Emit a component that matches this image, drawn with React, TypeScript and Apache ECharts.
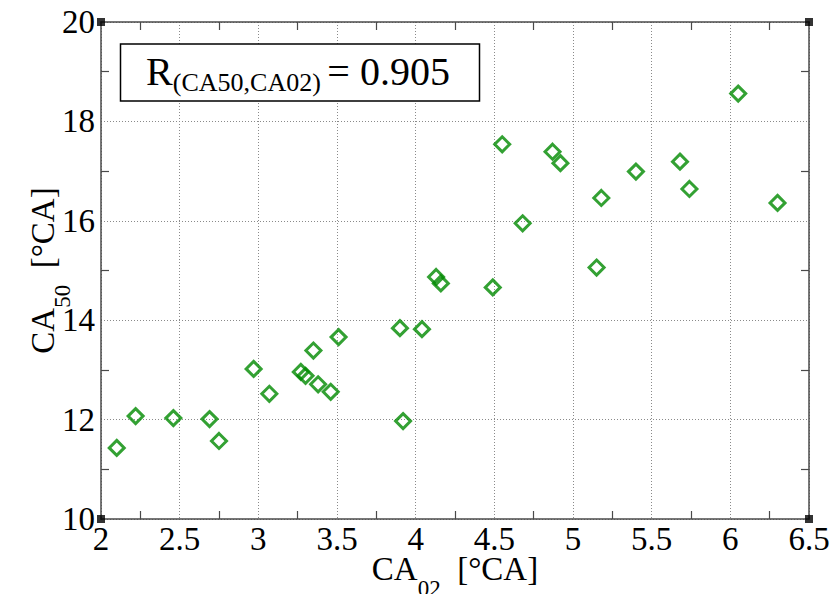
import React, { useEffect, useRef } from 'react';
import * as echarts from 'echarts';

// CA02 (x) and CA50 (y) values, in °CA
const ca02 = [2.10, 2.22, 2.46, 2.69, 2.75, 2.97, 3.07, 3.27, 3.30, 3.35, 3.38, 3.46, 3.51, 3.90, 3.92, 4.04, 4.13, 4.16, 4.49, 4.55, 4.68, 4.87, 4.92, 5.15, 5.18, 5.40, 5.68, 5.74, 6.05, 6.30];
const ca50 = [11.43, 12.07, 12.03, 12.01, 11.57, 13.02, 12.52, 12.96, 12.88, 13.39, 12.71, 12.56, 13.66, 13.84, 11.97, 13.82, 14.87, 14.74, 14.66, 17.54, 15.95, 17.39, 17.16, 15.06, 16.46, 16.99, 17.19, 16.64, 18.56, 16.36];

const xRange = [2, 6.5];
const xStep = 0.5;
const yRange = [10, 20];
const yStep = 2;

const cornerX = [2, 6.5, 2, 6.5];
const cornerY = [20, 20, 10, 10];

const correlationText = '0.905';

const FONT = 'Liberation Serif';
const AXIS = '#4a4a4a';
const GREEN = '#008a00';

const nameRich = {
  m: { fontSize: 33, fontFamily: FONT, color: '#000', lineHeight: 33, verticalAlign: 'top' },
  s: { fontSize: 23, fontFamily: FONT, color: '#000', lineHeight: 23, verticalAlign: 'top', padding: [25, 0, 0, 0] },
};

function mkAxisCommon() {
  return {
    type: 'value' as const,
    axisLine: { show: true, onZero: false, lineStyle: { color: AXIS, width: 1.5 } },
    axisTick: { show: false, inside: true },
    minorTick: { show: true, splitNumber: 2, length: 8, lineStyle: { color: AXIS, width: 1.2 } },
  };
}

export default function App() {
  const ref = useRef<HTMLDivElement>(null);
  useEffect(() => {
    const chart = echarts.init(ref.current!, undefined, { renderer: 'svg' });
    const points = ca02.map((x, i) => [x, ca50[i]]);
    const corners = cornerX.map((x, i) => [x, cornerY[i]]);
    const option: any = {
      animation: false,
      backgroundColor: '#fff',
      grid: { left: 101, right: 23, top: 22, bottom: 75, outerBoundsMode: 'none', containLabel: false },
      xAxis: [
        {
          ...mkAxisCommon(),
          position: 'bottom',
          min: xRange[0], max: xRange[1], interval: xStep,
          axisLabel: { fontSize: 33, lineHeight: 26, fontFamily: FONT, color: '#000', margin: 7 },
          splitLine: { show: true, lineStyle: { color: '#8a8a8a', type: [1, 2], width: 1 } },
          name: '{m|CA}{s|02}{m|  [°CA]}',
          nameLocation: 'middle',
          nameGap: 33,
          nameMoveOverlap: false,
          nameTextStyle: { rich: nameRich },
        },
        {
          ...mkAxisCommon(),
          position: 'top',
          min: xRange[0], max: xRange[1], interval: xStep,
          axisLabel: { show: false },
          splitLine: { show: false },
        },
      ],
      yAxis: [
        {
          ...mkAxisCommon(),
          position: 'left',
          min: yRange[0], max: yRange[1], interval: yStep,
          axisLabel: { fontSize: 33, fontFamily: FONT, color: '#000', margin: 6 },
          splitLine: { show: true, lineStyle: { color: '#8a8a8a', type: [1, 2], width: 1 } },
          name: '{m|CA}{s|50}{m|  [°CA]}',
          nameLocation: 'middle',
          nameRotate: 90,
          nameGap: 42,
          nameMoveOverlap: false,
          nameTextStyle: { rich: nameRich },
        },
        {
          ...mkAxisCommon(),
          position: 'right',
          min: yRange[0], max: yRange[1], interval: yStep,
          axisLabel: { show: false },
          splitLine: { show: false },
        },
      ],
      series: [
        {
          type: 'scatter',
          data: points,
          symbol: 'diamond',
          symbolSize: 15,
          itemStyle: { color: 'rgba(0,0,0,0)', borderColor: GREEN, borderWidth: 3 },
          z: 3,
        },
        {
          type: 'scatter',
          data: corners,
          symbol: 'rect',
          symbolSize: 8,
          itemStyle: { color: '#000' },
          clip: false,
          silent: true,
          z: 5,
        },
      ],
      graphic: [
        {
          type: 'rect',
          z: 100,
          shape: { x: 120.5, y: 44, width: 359, height: 57 },
          style: { fill: '#fff', stroke: '#000', lineWidth: 1.5 },
        },
        {
          type: 'text',
          z: 101,
          x: 298,
          y: 51.5,
          style: {
            text: '{r|R}{s|(CA50,CA02) }{r|= ' + correlationText + '}',
            align: 'center',
            verticalAlign: 'top',
            rich: {
              r: { fontSize: 40, fontFamily: FONT, fill: '#000', lineHeight: 40, verticalAlign: 'top' },
              s: { fontSize: 26, fontFamily: FONT, fill: '#000', lineHeight: 26, verticalAlign: 'top', padding: [18, 0, 0, 0] },
            },
          },
        },
      ],
    };
    chart.setOption(option);
    return () => chart.dispose();
  }, []);
  return <div ref={ref} style={{ position: 'fixed', left: 0, top: 0, width: 832, height: 594, background: '#fff' }} />;
}
